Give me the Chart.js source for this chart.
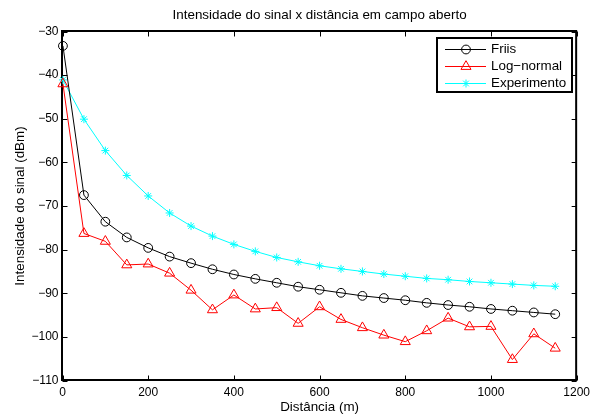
<!DOCTYPE html>
<html lang="pt">
<head>
<meta charset="UTF-8">
<title>Intensidade do sinal x distância em campo aberto</title>
<script src="https://cdn.jsdelivr.net/npm/chart.js"></script>
<style>
  body { margin: 0; background: #fff; }
</style>
</head>
<body>
<canvas id="grafico" width="595" height="415"></canvas>
<script>
// distâncias em metros (primeiro ponto praticamente em 0)
const distancias = [1, 50, 100, 150, 200, 250, 300, 350, 400, 450, 500, 550,
                    600, 650, 700, 750, 800, 850, 900, 950, 1000, 1050, 1100, 1150];

// intensidade do sinal em dBm
const friis = [-33.3, -67.5, -73.6, -77.2, -79.6, -81.6, -83.1, -84.5, -85.7, -86.7, -87.6, -88.5,
               -89.2, -89.9, -90.6, -91.1, -91.6, -92.2, -92.7, -93.1, -93.6, -94.0, -94.4, -94.8];
const logNormal = [-42.0, -76.3, -78.1, -83.5, -83.3, -85.4, -89.3, -93.8, -90.4, -93.6, -93.3, -96.9,
                   -93.1, -96.0, -97.9, -99.6, -101.1, -98.6, -95.7, -97.7, -97.6, -105.2, -99.3, -102.6];
const experimento = [-41.1, -50.1, -57.3, -63.0, -67.7, -71.6, -74.6, -76.9, -78.8, -80.4, -81.8, -82.8,
                     -83.7, -84.4, -85.0, -85.6, -86.1, -86.6, -86.9, -87.3, -87.6, -87.9, -88.2, -88.4];

const ticksX = [0, 200, 400, 600, 800, 1000, 1200];
const ticksY = [-110, -100, -90, -80, -70, -60, -50, -40, -30];

const fonte = "'Liberation Sans', Arial, Helvetica, sans-serif";
const tamTexto = 13.4;

function pontos(valores) {
    return valores.map((v, i) => ({ x: distancias[i], y: v }));
}

// caixa dos eixos, marcas para dentro, legenda e título (estilo MATLAB)
const moldura = {
    id: 'moldura',
    beforeDatasetsDraw(chart) {
        const { ctx, chartArea: a, scales: { x, y } } = chart;
        const tam = 5;
        ctx.save();
        ctx.strokeStyle = '#000';
        ctx.lineWidth = 1;
        ctx.beginPath();
        x.ticks.forEach(t => {
            const px = Math.round(x.getPixelForValue(t.value)) + 0.5;
            ctx.moveTo(px, a.bottom); ctx.lineTo(px, a.bottom - tam);
            ctx.moveTo(px, a.top); ctx.lineTo(px, a.top + tam);
        });
        y.ticks.forEach(t => {
            const py = Math.round(y.getPixelForValue(t.value)) + 0.5;
            ctx.moveTo(a.left, py); ctx.lineTo(a.left + tam, py);
            ctx.moveTo(a.right, py); ctx.lineTo(a.right - tam, py);
        });
        ctx.stroke();
        ctx.lineWidth = 2;
        ctx.strokeRect(a.left - 0.5, a.top - 0.5, a.right - a.left, a.bottom - a.top);
        ctx.restore();
    },
    afterDatasetsDraw(chart) {
        const { ctx, chartArea: a } = chart;
        const largura = 135, altura = 54;
        const x0 = Math.round(a.right - 5 - largura), y0 = Math.round(a.top + 6);
        ctx.save();
        ctx.fillStyle = '#fff';
        ctx.fillRect(x0, y0, largura, altura);
        ctx.strokeStyle = '#000';
        ctx.lineWidth = 2;
        ctx.strokeRect(x0, y0, largura, altura);
        chart.data.datasets.forEach((ds, i) => {
            const yy = y0 + 11.5 + i * 17;
            ctx.strokeStyle = ds.borderColor;
            ctx.lineWidth = 1;
            ctx.beginPath();
            ctx.moveTo(x0 + 8, yy);
            ctx.lineTo(x0 + 49, yy);
            ctx.stroke();
            ctx.fillStyle = 'rgba(0,0,0,0)';
            Chart.helpers.drawPoint(ctx, {
                pointStyle: ds.pointStyle, radius: ds.pointRadius, borderWidth: 1, rotation: 0
            }, x0 + 29, yy);
            ctx.fillStyle = '#000';
            ctx.font = tamTexto + 'px ' + fonte;
            ctx.textBaseline = 'middle';
            ctx.textAlign = 'left';
            ctx.fillText(ds.label, x0 + 54, yy);
        });
        ctx.restore();
    },
    afterDraw(chart) {
        const { ctx, chartArea: a } = chart;
        ctx.save();
        ctx.fillStyle = '#000';
        ctx.font = tamTexto + 'px ' + fonte;
        ctx.textAlign = 'center';
        ctx.textBaseline = 'middle';
        ctx.fillText('Intensidade do sinal x distância em campo aberto', (a.left + a.right) / 2, 15);
        ctx.restore();
    }
};

new Chart(document.getElementById('grafico'), {
    type: 'line',
    data: {
        datasets: [{
            label: 'Friis',
            data: pontos(friis),
            borderColor: '#000000',
            backgroundColor: 'rgba(0,0,0,0)',
            pointStyle: 'circle',
            pointRadius: 4.4,
            pointBorderWidth: 1,
            borderWidth: 1,
            clip: false
        }, {
            label: 'Log\u2212normal',
            data: pontos(logNormal),
            borderColor: '#ff0000',
            backgroundColor: 'rgba(0,0,0,0)',
            pointStyle: 'triangle',
            pointRadius: 5.8,
            pointBorderWidth: 1,
            borderWidth: 1,
            clip: false
        }, {
            label: 'Experimento',
            data: pontos(experimento),
            borderColor: '#00ffff',
            backgroundColor: 'rgba(0,0,0,0)',
            pointStyle: 'star',
            pointRadius: 4,
            pointBorderWidth: 1,
            borderWidth: 1,
            clip: false
        }]
    },
    options: {
        responsive: false,
        animation: false,
        devicePixelRatio: 1,
        layout: { padding: { left: 0, right: 15.5, top: 31.5, bottom: 0 } },
        elements: { line: { tension: 0 } },
        plugins: {
            legend: { display: false },
            title: { display: false },
            tooltip: { enabled: false }
        },
        scales: {
            x: {
                type: 'linear',
                min: 0,
                max: 1200,
                afterBuildTicks: s => { s.ticks = ticksX.map(v => ({ value: v })); },
                afterFit: s => { s.height = 34.5; },
                grid: { display: false, drawTicks: false },
                border: { display: false },
                ticks: {
                    color: '#000',
                    font: { family: fonte, size: 12 },
                    padding: 5,
                    maxRotation: 0,
                    autoSkip: false,
                    callback: v => String(v)
                },
                title: {
                    display: true,
                    text: 'Distância (m)',
                    color: '#000',
                    font: { family: fonte, size: tamTexto },
                    padding: { top: 0, bottom: 0 }
                }
            },
            y: {
                min: -110,
                max: -30,
                afterBuildTicks: s => { s.ticks = ticksY.map(v => ({ value: v })); },
                afterFit: s => { s.width = 62.5; },
                grid: { display: false, drawTicks: false },
                border: { display: false },
                ticks: {
                    color: '#000',
                    font: { family: fonte, size: 12 },
                    padding: 4,
                    autoSkip: false,
                    callback: v => String(v).replace('-', '\u2212')
                },
                title: {
                    display: true,
                    text: 'Intensidade do sinal (dBm)',
                    color: '#000',
                    font: { family: fonte, size: tamTexto },
                    padding: { top: 12, bottom: 0 }
                }
            }
        }
    },
    plugins: [moldura]
});
</script>
</body>
</html>
